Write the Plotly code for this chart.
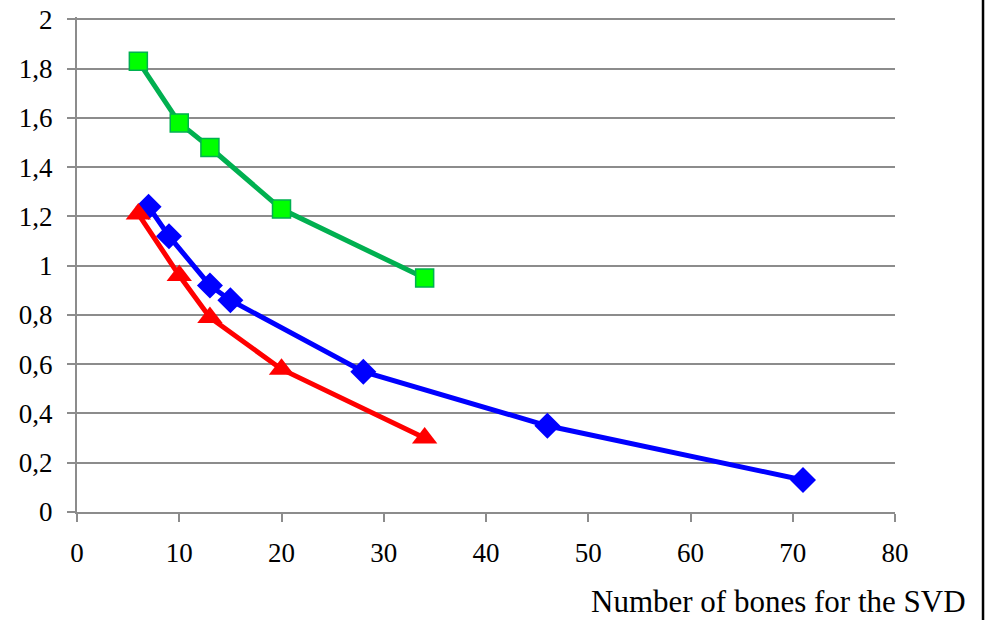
import plotly.graph_objects as go

green_x = [6, 10, 13, 20, 34]
green_y = [1.83, 1.58, 1.48, 1.23, 0.95]
blue_x = [7, 9, 13, 15, 28, 46, 71]
blue_y = [1.24, 1.12, 0.92, 0.86, 0.57, 0.35, 0.13]
red_x = [6, 10, 13, 20, 34]
red_y = [1.21, 0.96, 0.79, 0.58, 0.30]

x_ticks = [0, 10, 20, 30, 40, 50, 60, 70, 80]
y_ticks = [0, 0.2, 0.4, 0.6, 0.8, 1.0, 1.2, 1.4, 1.6, 1.8, 2.0]
y_tick_text = ["0", "0,2", "0,4", "0,6", "0,8", "1", "1,2", "1,4", "1,6", "1,8", "2"]

FONT = "Liberation Serif, Times New Roman, serif"
GRID = "#8c8c8c"

fig = go.Figure()
fig.add_trace(go.Scatter(
    x=blue_x, y=blue_y, mode="lines+markers",
    line=dict(color="#0000ff", width=5),
    marker=dict(symbol="diamond", size=20, color="#0000ff"),
    showlegend=False))
fig.add_trace(go.Scatter(
    x=red_x, y=red_y, mode="lines+markers",
    line=dict(color="#ff0000", width=5),
    marker=dict(symbol="triangle-up", size=22, color="#ff0000"),
    showlegend=False))
fig.add_trace(go.Scatter(
    x=green_x, y=green_y, mode="lines+markers",
    line=dict(color="#00b050", width=5),
    marker=dict(symbol="square", size=18, color="#00ff00",
                line=dict(color="#00b050", width=1.5)),
    showlegend=False))

fig.update_layout(
    width=987, height=620,
    margin=dict(l=77, r=92, t=17, b=108),
    paper_bgcolor="white", plot_bgcolor="white",
    font=dict(family=FONT, size=27, color="black"),
    xaxis=dict(range=[0, 80], tickvals=x_ticks, showgrid=False, automargin=False,
               showline=True, linecolor=GRID, linewidth=2,
               ticks="outside", ticklen=8, tickwidth=2, tickcolor=GRID,
               ticklabelstandoff=8, zeroline=False,
               tickfont=dict(family=FONT, size=27)),
    yaxis=dict(range=[0, 2.01], tickvals=y_ticks, ticktext=y_tick_text,
               showgrid=True, gridcolor=GRID, gridwidth=2, automargin=False,
               showline=True, linecolor=GRID, linewidth=2,
               ticks="outside", ticklen=8, tickwidth=2, tickcolor=GRID,
               ticklabelstandoff=9, zeroline=False,
               tickfont=dict(family=FONT, size=27)),
    shapes=[dict(type="line", xref="paper", yref="paper",
                 x0=1.1076, x1=1.1076, y0=-0.25, y1=1.05,
                 line=dict(color="black", width=2.5))],
    annotations=[dict(text="Number of bones for the SVD", xref="paper", yref="paper",
                      x=1.0892, y=-0.18, xanchor="right", yanchor="middle",
                      showarrow=False, font=dict(family=FONT, size=31, color="black"))],
)

fig.write_html("out.html")
